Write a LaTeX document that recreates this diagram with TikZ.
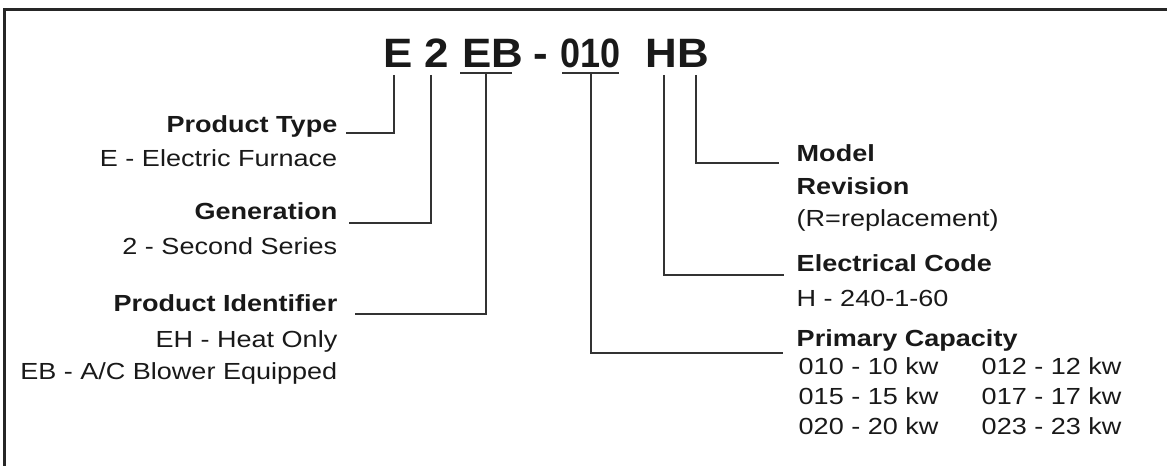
\documentclass[tikz,border=0pt]{standalone}
\usepackage{fontspec}
\setmainfont[FakeStretch=1.16]{Liberation Sans}
\newfontfamily\codefont[FakeStretch=1.07]{Liberation Sans}
\usetikzlibrary{positioning}

\begin{document}
\begin{tikzpicture}[
    every node/.style={inner sep=0pt, text=black!90},
    head/.style={font=\fontsize{6.63}{8}\selectfont\bfseries},
    item/.style={font=\fontsize{6.63}{8}\selectfont},
    code/.style={font=\codefont\fontsize{11.67}{14}\selectfont\bfseries, anchor=base west},
    link/.style={draw=black!80, line width=0.4pt}]
    \useasboundingbox (0,0) rectangle (11.67,4.66);
    \draw[line width=0.85pt, black!85](0.045,0)--(0.045,4.565)--(11.67,4.565);
    % model number
    \node[code] (cE) at (3.83,3.985){E};
    \node[code] (cGen) at (4.24,3.985){2};
    \node[code] (cId) at (4.62,3.985){EB};
    \node[code] (cDash) at (5.33,3.985){-};
    \node[code] (cCap) at (5.60,3.985){\scalebox{0.82}[1]{010}};
    \node[code] (cRev) at (6.45,3.985){HB};
    % left labels
    \node[head, anchor=base east] (ptype) at (3.38,3.33){Product Type};
    \node[item, anchor=base east] (ptypeA) at (3.38,2.99){E - Electric Furnace};
    \node[head, anchor=base east] (gen) at (3.38,2.46){Generation};
    \node[item, anchor=base east] (genA) at (3.38,2.11){2 - Second Series};
    \node[head, anchor=base east] (pid) at (3.38,1.54){Product Identifier};
    \node[item, anchor=base east] (pidA) at (3.38,1.18){EH - Heat Only};
    \node[item, anchor=base east] (pidB) at (3.38,0.86){EB - A/C Blower Equipped};
    % right labels
    \node[head, anchor=base west] (model) at (7.96,3.04){Model};
    \node[head, anchor=base west] (modelB) at (7.96,2.71){Revision};
    \node[item, anchor=base west] (modelC) at (7.96,2.39){(R=replacement)};
    \node[head, anchor=base west] (elec) at (7.96,1.94){Electrical Code};
    \node[item, anchor=base west] (elecA) at (7.96,1.59){H - 240-1-60};
    \node[head, anchor=base west] (cap) at (7.96,1.19){Primary Capacity};
    \node[item, anchor=base west] (capA) at (7.98,0.91){010 - 10 kw};
    \node[item, anchor=base west] (capB) at (7.98,0.61){015 - 15 kw};
    \node[item, anchor=base west] (capC) at (7.98,0.31){020 - 20 kw};
    \node[item, anchor=base west] (capD) at (9.81,0.91){012 - 12 kw};
    \node[item, anchor=base west] (capE) at (9.81,0.61){017 - 17 kw};
    \node[item, anchor=base west] (capF) at (9.81,0.31){023 - 23 kw};
    % underlines and connectors
    \coordinate (tE) at (3.94,3.91);
    \coordinate (tGen) at (4.31,3.91);
    \coordinate (tId) at (4.86,3.93);
    \coordinate (tCap) at (5.91,3.93);
    \coordinate (tElec) at (6.64,3.91);
    \coordinate (tModel) at (6.96,3.91);
    \draw[link](4.60,3.93)--(5.12,3.93);
    \draw[link](5.62,3.93)--(6.19,3.93);
    \draw[link](tE)|-([xshift=0.08cm]ptype.base east);
    \draw[link](tGen)|-([shift={(0.11,-0.03)}]gen.base east);
    \draw[link](tId)|-([shift={(0.17,-0.02)}]pid.base east);
    \draw[link](tModel)|-([shift={(-0.17,-0.01)}]model.base west);
    \draw[link](tElec)|-([shift={(-0.12,-0.03)}]elec.base west);
    \draw[link](tCap)|-([shift={(-0.13,-0.06)}]cap.base west);
\end{tikzpicture}
\end{document}
